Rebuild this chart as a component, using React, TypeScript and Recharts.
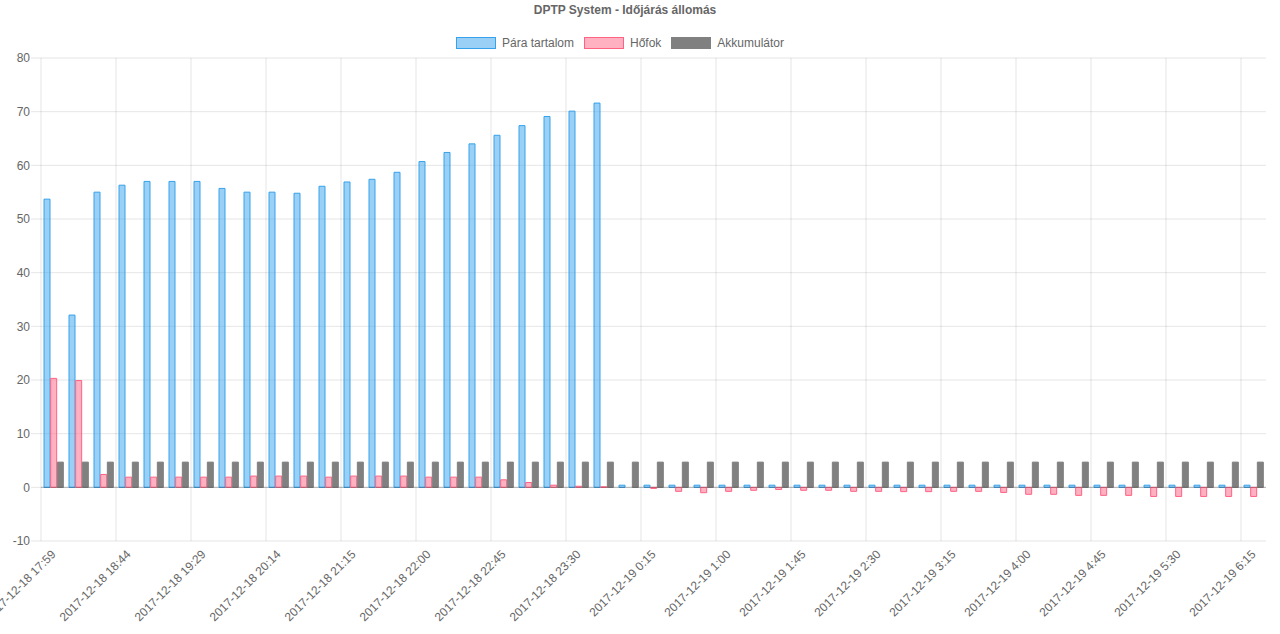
import React from 'react';
import { BarChart, Bar, XAxis, YAxis, CartesianGrid, Legend, ReferenceLine } from 'recharts';

const labels: string[] = [
  '2017-12-18 17:59', '2017-12-18 18:14', '2017-12-18 18:29', '2017-12-18 18:44',
  '2017-12-18 18:59', '2017-12-18 19:14', '2017-12-18 19:29', '2017-12-18 19:44',
  '2017-12-18 19:59', '2017-12-18 20:14', '2017-12-18 20:45', '2017-12-18 21:00',
  '2017-12-18 21:15', '2017-12-18 21:30', '2017-12-18 21:45', '2017-12-18 22:00',
  '2017-12-18 22:15', '2017-12-18 22:30', '2017-12-18 22:45', '2017-12-18 23:00',
  '2017-12-18 23:15', '2017-12-18 23:30', '2017-12-18 23:45', '2017-12-19 0:00',
  '2017-12-19 0:15', '2017-12-19 0:30', '2017-12-19 0:45', '2017-12-19 1:00',
  '2017-12-19 1:15', '2017-12-19 1:30', '2017-12-19 1:45', '2017-12-19 2:00',
  '2017-12-19 2:15', '2017-12-19 2:30', '2017-12-19 2:45', '2017-12-19 3:00',
  '2017-12-19 3:15', '2017-12-19 3:30', '2017-12-19 3:45', '2017-12-19 4:00',
  '2017-12-19 4:15', '2017-12-19 4:30', '2017-12-19 4:45', '2017-12-19 5:00',
  '2017-12-19 5:15', '2017-12-19 5:30', '2017-12-19 5:45', '2017-12-19 6:00',
  '2017-12-19 6:15',
];

const para: number[] = [
  53.7, 32.1, 55.0, 56.3, 57.0, 57.0, 57.0, 55.7, 55.0, 55.0, 54.8, 56.1,
  56.9, 57.4, 58.7, 60.7, 62.4, 64.0, 65.6, 67.4, 69.1, 70.1, 71.6,
  0.4, 0.4, 0.4, 0.4, 0.4, 0.4, 0.4, 0.4, 0.4, 0.4, 0.4, 0.4, 0.4,
  0.4, 0.4, 0.4, 0.4, 0.4, 0.4, 0.4, 0.4, 0.4, 0.4, 0.4, 0.4, 0.4,
];

const hofok: number[] = [
  20.3, 19.9, 2.4, 1.9, 1.9, 1.9, 1.9, 1.9, 2.1, 2.1, 2.1, 1.9,
  2.1, 2.1, 2.1, 1.9, 1.9, 1.9, 1.4, 0.9, 0.4, 0.2, 0.1,
  0, -0.2, -0.75, -1.0, -0.75, -0.55, -0.4, -0.55, -0.55, -0.75, -0.75, -0.8, -0.8,
  -0.75, -0.75, -0.95, -1.3, -1.3, -1.5, -1.5, -1.5, -1.7, -1.7, -1.7, -1.7, -1.7,
];

const akku: number[] = [
  4.7, 4.7, 4.7, 4.7, 4.7, 4.7, 4.7, 4.7, 4.7, 4.7, 4.7, 4.7,
  4.7, 4.7, 4.7, 4.7, 4.7, 4.7, 4.7, 4.7, 4.7, 4.7, 4.7,
  4.7, 4.7, 4.7, 4.7, 4.7, 4.7, 4.7, 4.7, 4.7, 4.7, 4.7, 4.7, 4.7,
  4.7, 4.7, 4.7, 4.7, 4.7, 4.7, 4.7, 4.7, 4.7, 4.7, 4.7, 4.7, 4.7,
];

const yTicks: number[] = [-10, 0, 10, 20, 30, 40, 50, 60, 70, 80];
const seriesOrder: string[] = ['para', 'hofok', 'akku'];

const data = labels.map((t, i) => ({ t, para: para[i], hofok: hofok[i], akku: akku[i] }));

const FONT = '"Liberation Sans", Arial, Helvetica, sans-serif';
const TEXT = '#666';
const GRID = 'rgba(0,0,0,0.1)';

const XTick = (props: any) => {
  const { x, y, payload } = props;
  return (
    <g transform={`translate(${x},${y + 3})`}>
      <text
        x={0}
        y={0}
        dy="0.35em"
        textAnchor="end"
        transform="rotate(-45)"
        fill={TEXT}
        fontSize={12}
        fontFamily={FONT}
      >
        {payload.value}
      </text>
    </g>
  );
};

const LegendContent = (props: any) => {
  const items = [...(props.payload || [])].sort(
    (a: any, b: any) => seriesOrder.indexOf(a.dataKey) - seriesOrder.indexOf(b.dataKey)
  );
  return (
    <div
      style={{
        display: 'flex',
        justifyContent: 'center',
        alignItems: 'center',
        fontFamily: FONT,
        fontSize: 12,
        color: TEXT,
        lineHeight: '12px',
      }}
    >
      {items.map((p: any, i: number) => (
        <div key={i} style={{ display: 'flex', alignItems: 'center', marginRight: i < items.length - 1 ? 10 : 0 }}>
          <span
            style={{
              display: 'inline-block',
              width: 38,
              height: 10,
              background: p.payload.fill,
              border: `1px solid ${p.payload.stroke}`,
              marginRight: 6,
            }}
          />
          <span>{p.value}</span>
        </div>
      ))}
    </div>
  );
};

export default function App() {
  const N = labels.length;
  return (
    <div style={{ position: 'absolute', left: 0, top: 0, width: 1280, height: 634, background: '#fff' }}>
      <div
        style={{
          position: 'absolute',
          left: 0,
          top: 3,
          width: 1250,
          textAlign: 'center',
          fontFamily: FONT,
          fontSize: 12,
          fontWeight: 'bold',
          color: TEXT,
          lineHeight: '14px',
        }}
      >
        DPTP System - Időjárás állomás
      </div>
      <BarChart
        width={1280}
        height={634}
        data={data}
        margin={{ top: 58, right: 14, bottom: 0, left: 0 }}
        barGap={0.67}
        barSize={6}
      >
        <CartesianGrid
          stroke={GRID}
          verticalCoordinatesGenerator={({ offset }: any) => {
            const band = offset.width / N;
            const pts: number[] = [];
            for (let i = 0; i < N; i += 3) pts.push(offset.left + i * band);
            return pts;
          }}
        />
        <XAxis
          dataKey="t"
          interval={2}
          height={93}
          axisLine={false}
          tickLine={false}
          tick={<XTick />}
        />
        <YAxis
          width={41}
          domain={[-10, 80]}
          ticks={yTicks}
          axisLine={false}
          tickLine={{ stroke: GRID }}
          tickSize={10}
          tickMargin={1}
          tick={{ fill: TEXT, fontSize: 12, fontFamily: FONT }}
        />
        <ReferenceLine y={0} stroke="rgba(0,0,0,0.25)" />
        <Legend
          layout="horizontal"
          verticalAlign="middle"
          align="center"
          wrapperStyle={{ top: 37, left: 0, width: 1240 }}
          content={<LegendContent />}
        />
        <Bar
          dataKey="para"
          name="Pára tartalom"
          fill="rgba(54,162,235,0.5)"
          stroke="rgb(54,162,235)"
          strokeWidth={1}
          isAnimationActive={false}
        />
        <Bar
          dataKey="hofok"
          name="Hőfok"
          fill="rgba(255,99,132,0.5)"
          stroke="rgb(255,99,132)"
          strokeWidth={1}
          isAnimationActive={false}
        />
        <Bar
          dataKey="akku"
          name="Akkumulátor"
          fill="rgba(128,128,128,1)"
          stroke="rgba(128,128,128,1)"
          strokeWidth={1}
          isAnimationActive={false}
        />
      </BarChart>
    </div>
  );
}
